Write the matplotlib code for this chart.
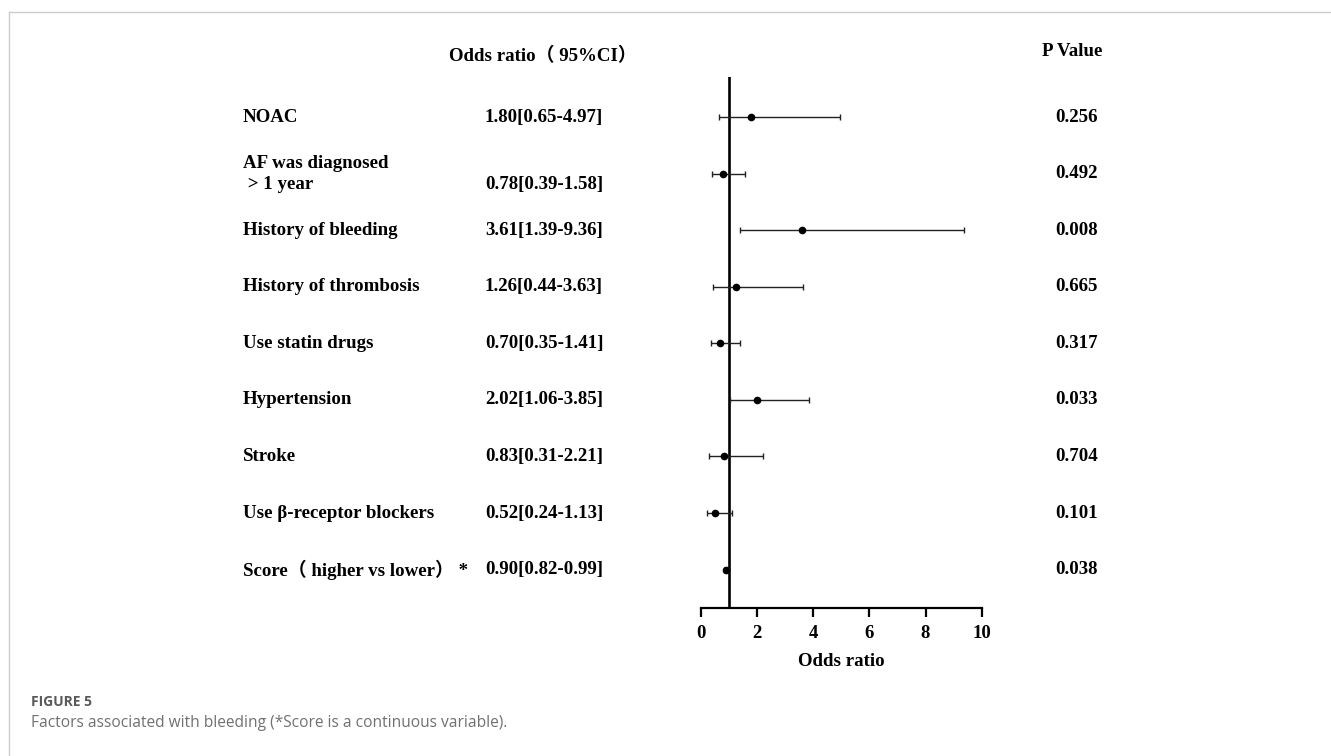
import matplotlib.pyplot as plt
from matplotlib.transforms import blended_transform_factory

# data
factors = ["NOAC", "AF was diagnosed\n > 1 year", "History of bleeding",
           "History of thrombosis", "Use statin drugs", "Hypertension",
           "Stroke", "Use β-receptor blockers", "Score（ higher vs lower） *"]
odds = [1.80, 0.78, 3.61, 1.26, 0.70, 2.02, 0.83, 0.52, 0.90]
ci_low = [0.65, 0.39, 1.39, 0.44, 0.35, 1.06, 0.31, 0.24, 0.82]
ci_high = [4.97, 1.58, 9.36, 3.63, 1.41, 3.85, 2.21, 1.13, 0.99]
p_values = ["0.256", "0.492", "0.008", "0.665", "0.317", "0.033", "0.704", "0.101", "0.038"]
xticks = [0, 2, 4, 6, 8, 10]

serif = ["Liberation Serif", "Noto Sans CJK SC", "DejaVu Serif"]
plt.rcParams["font.family"] = serif
FS = 13.6

W, H = 1331, 756
fig = plt.figure(figsize=(W / 100, H / 100), dpi=100)

# thin grey frame of the page (top and left)
fig.add_artist(plt.Line2D([9 / W, 1], [1 - 12 / H, 1 - 12 / H], color="#cccccc", lw=1))
fig.add_artist(plt.Line2D([9 / W, 9 / W], [0, 1 - 12 / H], color="#cccccc", lw=1))

ax = fig.add_axes([700.7 / W, 1 - 607.5 / H, 281 / W, 530.5 / H])
rows = list(range(len(factors)))
ax.set_xlim(0, 10)
ax.set_ylim(8.67, -0.708)

ax.axvline(1, color="black", lw=1.9, zorder=1)
ax.errorbar(odds, rows, xerr=[[o - l for o, l in zip(odds, ci_low)],
                              [h - o for o, h in zip(odds, ci_high)]],
            fmt="o", color="black", ms=4.5, ecolor="#222222", elinewidth=1.0,
            capsize=2.5, capthick=1.0, zorder=3)

for s in ["top", "right", "left"]:
    ax.spines[s].set_visible(False)
ax.spines["bottom"].set_linewidth(1.6)
ax.set_yticks([])
ax.set_xticks(xticks)
ax.tick_params(axis="x", length=6.5, width=1.6, pad=6, labelsize=13.5)
for t in ax.get_xticklabels():
    t.set_fontweight("bold")
ax.set_xlabel("Odds ratio", fontsize=FS, fontweight="bold", labelpad=8)

# text columns: figure x, data y
tr = blended_transform_factory(fig.transFigure, ax.transData)
value_shift = {1: 0.19}
for i, (name, o, lo, hi, p) in enumerate(zip(factors, odds, ci_low, ci_high, p_values)):
    ax.text(243 / W, i, name, transform=tr, ha="left", va="center",
            fontsize=FS, fontweight="bold", linespacing=1.3, clip_on=False)
    ax.text(544 / W, i + value_shift.get(i, 0), f"{o:.2f}[{lo:.2f}-{hi:.2f}]", transform=tr,
            ha="center", va="center", fontsize=FS, fontweight="bold", clip_on=False)
    ax.text(1077 / W, i, p, transform=tr, ha="center", va="center",
            fontsize=FS, fontweight="bold", clip_on=False)

fig.text(543 / W, 1 - 56 / H, "Odds ratio（ 95%CI）", ha="center", va="center",
         fontsize=FS, fontweight="bold")
fig.text(1072 / W, 1 - 52 / H, "P Value", ha="center", va="center",
         fontsize=FS, fontweight="bold")

# caption
fig.text(31 / W, 1 - 702 / H, "FIGURE 5", ha="left", va="center", fontsize=10,
         fontweight="bold", color="#5a5a5a", family=["Open Sans", "DejaVu Sans"])
fig.text(31 / W, 1 - 723 / H, "Factors associated with bleeding (*Score is a continuous variable).",
         ha="left", va="center", fontsize=11.2, color="#707070",
         family=["Open Sans", "DejaVu Sans"])

fig.savefig("out.png", dpi=100)
